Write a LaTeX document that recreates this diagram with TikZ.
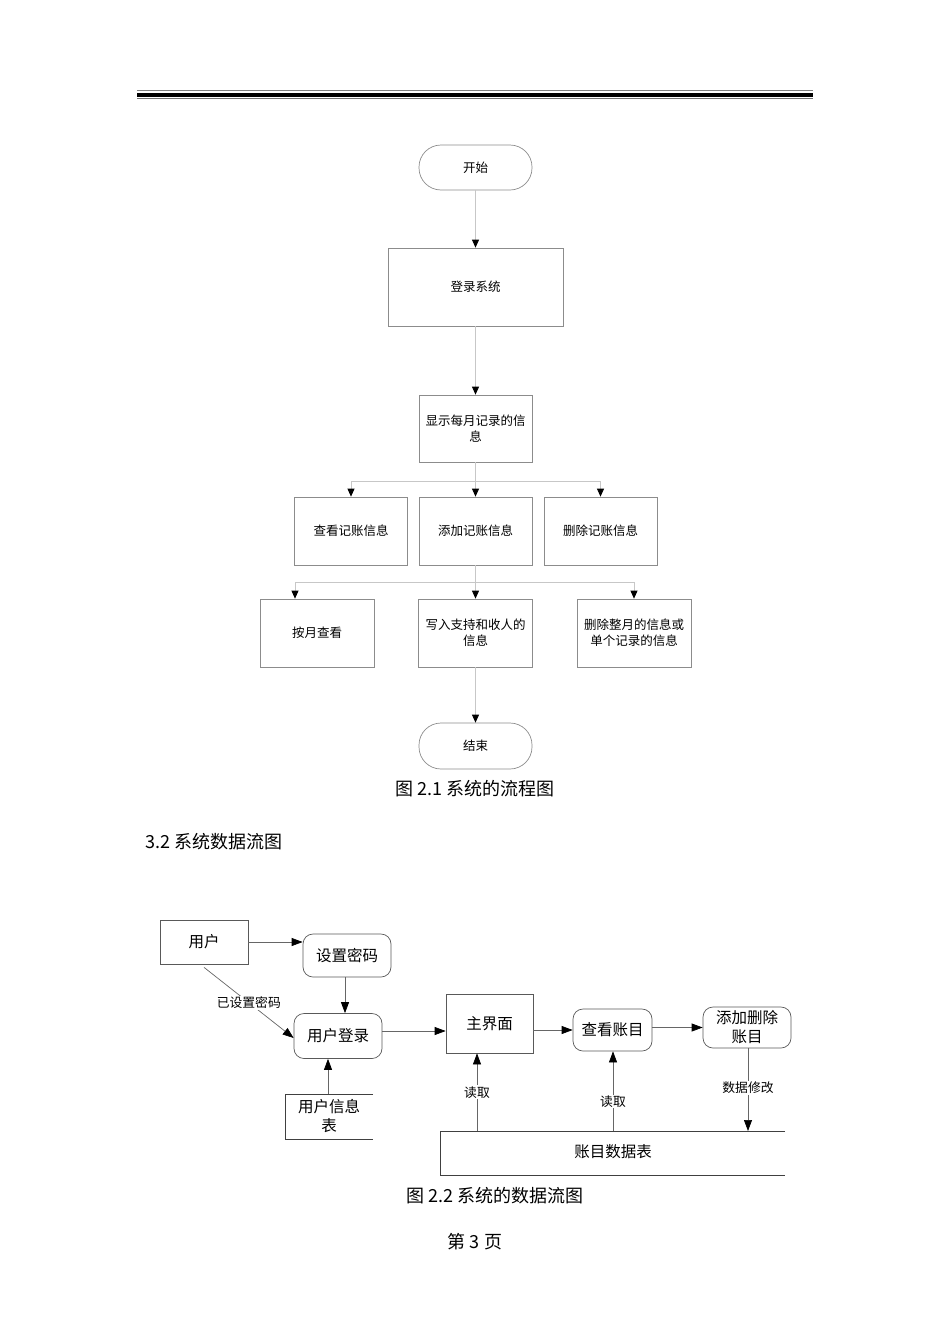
\documentclass[tikz,border=0pt]{standalone}
\usepackage{fontspec}
\setmainfont{Noto Sans CJK SC}
\usetikzlibrary{arrows.meta}
\begin{document}
\begin{tikzpicture}[x=1pt,y=-1pt,
  fbox/.style={draw=black!45, line width=0.7pt, inner sep=2pt, align=center, font=\fontsize{12.5}{16}\selectfont},
  fterm/.style={fbox, rounded corners=22pt},
  fline/.style={draw=black!22, line width=0.8pt},
  farrow/.style={fline, -{Triangle[length=8pt,width=7pt,color=black]}},
  dnode/.style={draw=black!65, line width=0.7pt, inner sep=2pt, align=center, font=\fontsize{15.5}{19}\selectfont},
  dround/.style={dnode, rounded corners=10pt},
  dline/.style={draw=black!60, line width=0.7pt},
  darrow/.style={dline, -{Triangle[length=11pt,width=8pt,color=black]}},
  dlabel/.style={fill=white, inner sep=1pt, font=\fontsize{12.8}{15}\selectfont},
  caption/.style={font=\fontsize{18}{22}\selectfont}]
\useasboundingbox (0,0) rectangle (950,1344);
% header rule
\draw[black!50, line width=1pt] (137,90.5) -- (813,90.5);
\draw[black, line width=4.5pt] (137,95) -- (813,95);
\draw[black!55, line width=0.8pt] (137,98.6) -- (813,98.6);

% ---------- flowchart ----------
\node[fterm, minimum width=113pt, minimum height=45pt] (start) at (475.5,167.5) {开始};
\node[fbox, minimum width=175pt, minimum height=78pt] (login) at (475.5,287) {登录系统};
\node[fbox, minimum width=113pt, minimum height=67pt] (show) at (475.5,428.5) {显示每月记录的信\\息};
\node[fbox, minimum width=113pt, minimum height=68pt] (view) at (351,531) {查看记账信息};
\node[fbox, minimum width=113pt, minimum height=68pt] (add) at (475.5,531) {添加记账信息};
\node[fbox, minimum width=113pt, minimum height=68pt] (del) at (600.5,531) {删除记账信息};
\node[fbox, minimum width=114pt, minimum height=68pt] (bymonth) at (317,633) {按月查看};
\node[fbox, minimum width=114pt, minimum height=68pt] (write) at (475.5,633) {写入支持和收人的\\信息};
\node[fbox, minimum width=114pt, minimum height=68pt] (delm) at (634,633) {删除整月的信息或\\单个记录的信息};
\node[fterm, minimum width=113pt, minimum height=46pt] (end) at (475.5,746) {结束};

\draw[farrow] (start) -- (login);
\draw[farrow] (login) -- (show);
\coordinate (b1) at (475.5,481);
\draw[fline] (show.south) -- (b1);
\draw[farrow] (b1) -| (view.north);
\draw[farrow] (b1) -- (add.north);
\draw[farrow] (b1) -| (del.north);
\coordinate (b2) at (475.5,582);
\draw[fline] (add.south) -- (b2);
\draw[farrow] (b2) -| ([xshift=-22pt]bymonth.north);
\draw[farrow] (b2) -- (write.north);
\draw[farrow] (b2) -| (delm.north);
\draw[farrow] (write) -- (end);

\node[caption] (cap1) at (475,789) {图 2.1 系统的流程图};
\node[caption, anchor=west] (head) at (142,842) {3.2 系统数据流图};

% ---------- data flow diagram ----------
\node[dnode, minimum width=88pt, minimum height=44pt] (user) at (204,942) {用户};
\node[dround, minimum width=88pt, minimum height=43pt] (setpw) at (347,955.5) {设置密码};
\node[dround, minimum width=88pt, minimum height=45pt] (ulogin) at (338,1036) {用户登录};
\node[dnode, minimum width=87pt, minimum height=59pt] (main) at (489.5,1023.5) {主界面};
\node[dround, minimum width=79pt, minimum height=42pt] (viewacc) at (612.5,1030) {查看账目};
\node[dround, minimum width=88pt, minimum height=41pt] (adddel) at (747,1027.5) {添加删除\\账目};

% user info store (open box)
\draw[dline, draw=black!75] (373,1094) -- (285,1094) -- (285,1139) -- (373,1139);
\node[font=\fontsize{15.5}{19}\selectfont, align=center] (uinfo) at (329,1116) {用户信息\\表};
% account data store (open box)
\draw[dline, draw=black!75] (785,1131) -- (440,1131) -- (440,1175) -- (785,1175);
\node[font=\fontsize{15.5}{19}\selectfont] (acct) at (613,1152) {账目数据表};

\coordinate (uitop) at (328,1094);
\coordinate (r1) at (477,1131);
\coordinate (r2) at (613,1131);
\coordinate (w1) at (748,1131);
\coordinate (yl) at (0,1031);

\draw[darrow] (user.east) -- (user.east -| setpw.west);
\draw[darrow] ([yshift=-3pt]user.south) -- ([yshift=-2pt]ulogin.west)
  node[dlabel, pos=0.5] {已设置密码};
\draw[darrow] ([xshift=-2pt]setpw.south) -- ([xshift=-2pt]setpw.south |- ulogin.north);
\draw[darrow] (uitop) -- (uitop |- ulogin.south);
\draw[darrow] (ulogin.east |- yl) -- (main.west |- yl);
\draw[darrow] (main.east |- viewacc.west) -- (viewacc.west);
\draw[darrow] (viewacc.east |- adddel.west) -- (adddel.west);
\draw[darrow] (r1) -- (r1 |- main.south) node[dlabel, pos=0.5] {读取};
\draw[darrow] (r2) -- (r2 |- viewacc.south) node[dlabel, pos=0.37] {读取};
\draw[darrow] (w1 |- adddel.south) -- (w1) node[dlabel, pos=0.48] {数据修改};

\node[caption] (cap2) at (495,1196) {图 2.2 系统的数据流图};
\node[caption] (page) at (475,1242) {第 3 页};
\end{tikzpicture}
\end{document}
